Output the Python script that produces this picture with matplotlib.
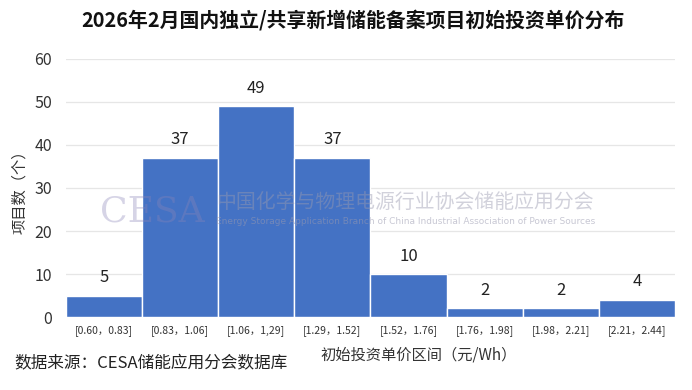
import numpy as np
import matplotlib.pyplot as plt
import matplotlib as mpl

mpl.rcParams['font.family'] = ['Noto Sans CJK SC', 'DejaVu Sans']
mpl.rcParams['axes.unicode_minus'] = False

# bins and project counts
bins = ['[0.60，0.83]', '[0.83，1.06]', '[1.06，1,29]', '[1.29，1.52]',
        '[1.52，1.76]', '[1.76，1.98]', '[1.98，2.21]', '[2.21，2.44]']
counts = [5, 37, 49, 37, 10, 2, 2, 4]
yticks = [0, 10, 20, 30, 40, 50, 60]

fig = plt.figure(figsize=(6.92, 3.90), dpi=100)
ax = fig.add_axes([0.0954, 0.187, 0.880, 0.662])

x = np.arange(len(bins))
bars = ax.bar(x, counts, width=1.0, color='#4472C4', edgecolor='white', linewidth=1.0, zorder=2)
for xi, c in zip(x, counts):
    ax.text(xi, c + 2.2, str(c), ha='center', va='bottom', fontsize=12, color='#222222', zorder=3)

ax.set_xlim(-0.5, len(bins) - 0.5)
ax.set_ylim(0, 60)
ax.set_yticks(yticks)
ax.set_xticks(x)
ax.set_xticklabels(bins, fontsize=7.5, color='#333333')
ax.tick_params(axis='y', labelsize=11.5, length=0, pad=10, colors='#333333')
ax.tick_params(axis='x', length=0, pad=6)
ax.grid(axis='y', color='#e6e6e6', linewidth=0.9, zorder=0)
for s in ax.spines.values():
    s.set_visible(False)

ax.set_ylabel('项目数（个）', fontsize=11, color='#333333')
ax.yaxis.set_label_coords(-0.062, 0.5)

# watermark
fig.text(0.145, 0.458, 'CESA', family='DejaVu Serif', fontsize=26, color='#8a84b8',
         alpha=0.35, va='center', zorder=5)
fig.text(0.312, 0.478, '中国化学与物理电源行业协会储能应用分会', fontsize=14.3,
         color='#9a9ab0', alpha=0.45, va='center', zorder=5)
fig.text(0.312, 0.433, 'Energy Storage Application Branch of China Industrial Association of Power Sources',
         family='DejaVu Sans', fontsize=6.5, color='#9a9ab0', alpha=0.55, va='center', zorder=5)

fig.text(0.51, 0.948, '2026年2月国内独立/共享新增储能备案项目初始投资单价分布',
         ha='center', va='center', fontsize=14.3, fontweight='bold', color='#111111')
fig.text(0.605, 0.09, '初始投资单价区间（元/Wh）', ha='center', va='center',
         fontsize=11, color='#333333')
fig.text(0.02, 0.068, '数据来源：CESA储能应用分会数据库', ha='left', va='center',
         fontsize=12, color='#222222')

fig.savefig('out.png', dpi=100)
